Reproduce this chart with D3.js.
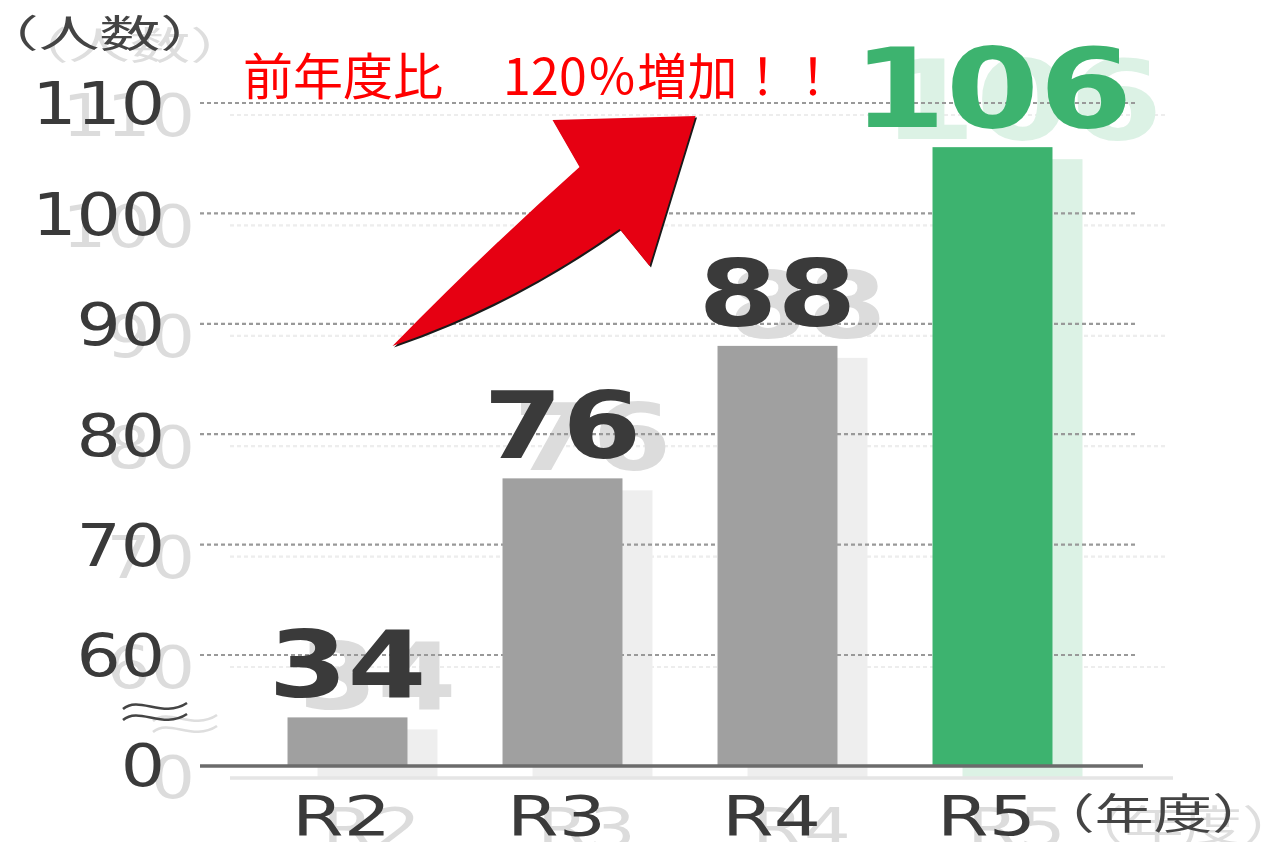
<!DOCTYPE html>
<html>
<head>
<meta charset="utf-8">
<script src="https://cdn.jsdelivr.net/npm/d3@7"></script>
<style>
  html, body { margin: 0; padding: 0; background: #ffffff; }
  svg { display: block; }
</style>
</head>
<body>
<svg id="chart" width="1269" height="842"></svg>
<script>
// ---------- data ----------
const categories = ["R2", "R3", "R4", "R5"];
const values = [34, 76, 88, 106];
const highlightCategory = "R5";
const tickValues = [0, 60, 70, 80, 90, 100, 110];
const gridValues = [60, 70, 80, 90, 100, 110];
const yAxisTitle = "（人数）";
const xAxisTitle = "（年度）";
const annotationLead = "前年度比";
const annotationMain = "120％増加！！";

// ---------- setup ----------
const svg = d3.select("#chart");

const x = d3.scaleBand()
  .domain(categories)
  .range([240, 1100])
  .paddingInner(0.442)
  .paddingOuter(0.221);

// broken axis: 0 .. (gap) .. 60 .. 110
const y = d3.scaleLinear()
  .domain([0, 50, 60, 110])
  .range([765, 695, 655, 103]);

const data = categories.map((c, i) => ({ cat: c, val: values[i] }));

const numFont = "'DejaVu Sans', sans-serif";
const cjkFont = "'Noto Sans CJK JP', sans-serif";
const textColor = "#3a3a3a";
const grayBar = "#a0a0a0";
const greenBar = "#3db36f";

function drawLayer(g) {
  // gridlines
  g.append("g").selectAll("line")
    .data(gridValues)
    .join("line")
    .attr("x1", 200).attr("x2", 1138)
    .attr("y1", d => y(d)).attr("y2", d => y(d))
    .attr("stroke", "#999999")
    .attr("stroke-width", 2.2)
    .attr("stroke-dasharray", "4,3");

  // bars
  g.append("g").selectAll("rect")
    .data(data)
    .join("rect")
    .attr("x", d => x(d.cat))
    .attr("width", x.bandwidth())
    .attr("y", d => y(d.val))
    .attr("height", d => y(0) - y(d.val))
    .attr("fill", d => d.cat === highlightCategory ? greenBar : grayBar);

  // baseline axis line
  g.append("line")
    .attr("x1", 200).attr("x2", 1143)
    .attr("y1", y(0) + 1).attr("y2", y(0) + 1)
    .attr("stroke", "#6b6b6b")
    .attr("stroke-width", 3.5);

  // y axis tick labels
  const yAxis = g.append("g")
    .attr("transform", "translate(165,0)")
    .call(d3.axisLeft(y).tickValues(tickValues).tickSize(0).tickPadding(0).tickFormat(d3.format("d")));
  yAxis.select(".domain").remove();
  yAxis.selectAll("text")
    .attr("x", 0)
    .attr("dy", "0.36em")
    .attr("text-anchor", "end")
    .attr("transform", "scale(1.2,1)")
    .attr("fill", textColor)
    .style("font-family", numFont)
    .style("font-size", "58px");

  // x axis labels
  const xAxis = g.append("g")
    .attr("transform", `translate(-6,${y(0) + 70})`)
    .call(d3.axisBottom(x).tickSize(0).tickPadding(0));
  xAxis.select(".domain").remove();
  xAxis.selectAll(".tick").each(function(d) {
    const tx = x(d) + x.bandwidth() / 2;
    d3.select(this).attr("transform", `translate(${tx},0)`);
  });
  xAxis.selectAll("text")
    .attr("y", 0)
    .attr("dy", 0)
    .attr("text-anchor", "middle")
    .attr("transform", "scale(1.35,1)")
    .attr("fill", textColor)
    .style("font-family", numFont)
    .style("font-size", "55px");

  // value labels
  g.append("g").selectAll("text")
    .data(data)
    .join("text")
    .attr("transform", d => `translate(${x(d.cat) + x.bandwidth() / 2},${y(d.val) - 20}) scale(1.22,1)`)
    .attr("text-anchor", "middle")
    .attr("fill", d => d.cat === highlightCategory ? greenBar : textColor)
    .style("font-family", numFont)
    .style("font-weight", "bold")
    .style("font-size", d => d.cat === highlightCategory ? "110px" : "93px")
    .text(d => d.val);

  // axis break symbol (≈)
  const bx = 123, by = y(0) - 62;
  [0, 11].forEach(off => {
    g.append("path")
      .attr("d", `M${bx},${by + off + 6} C${bx + 16},${by + off - 8} ${bx + 40},${by + off + 16} ${bx + 64},${by + off}`)
      .attr("fill", "none")
      .attr("stroke", "#444")
      .attr("stroke-width", 2.5);
  });

  // axis titles
  g.append("text")
    .attr("transform", "translate(-22,47) scale(1.6,1)")
    .attr("fill", "#444")
    .style("font-family", cjkFont)
    .style("font-size", "38px")
    .text(yAxisTitle);

  g.append("text")
    .attr("transform", `translate(1036,${y(0) + 64}) scale(1.4,1)`)
    .attr("fill", "#444")
    .style("font-family", cjkFont)
    .style("font-size", "42px")
    .text(xAxisTitle);
}

// ghost (double exposure) layer
const ghost = svg.append("g")
  .attr("transform", "translate(30,12)")
  .attr("opacity", 0.18);
drawLayer(ghost);

// main layer
const main = svg.append("g");
drawLayer(main);

// ---------- red arrow annotation ----------
const ax = x("R3") - 110, ay = y(88);
const arrowPath = `M${ax},${ay}
  Q${ax + 92},${ay - 94} ${ax + 187},${ay - 179}
  L${ax + 160},${ay - 226}
  L${ax + 303},${ay - 230}
  L${ax + 257},${ay - 80}
  L${ax + 227},${ay - 117}
  Q${ax + 118},${ay - 40} ${ax},${ay} Z`;

svg.append("path")
  .attr("d", arrowPath)
  .attr("transform", "translate(1.5,1.5)")
  .attr("fill", "#1a1a1a");
svg.append("path")
  .attr("d", arrowPath)
  .attr("fill", "#e60012");

const note = svg.append("text")
  .attr("y", 95)
  .attr("fill", "#ff0000")
  .style("font-family", cjkFont)
  .style("font-size", "50px");
note.append("tspan").attr("x", 243).text(annotationLead);
note.append("tspan").attr("x", 503)
  .attr("textLength", 335)
  .attr("lengthAdjust", "spacing")
  .text(annotationMain);
</script>
</body>
</html>
